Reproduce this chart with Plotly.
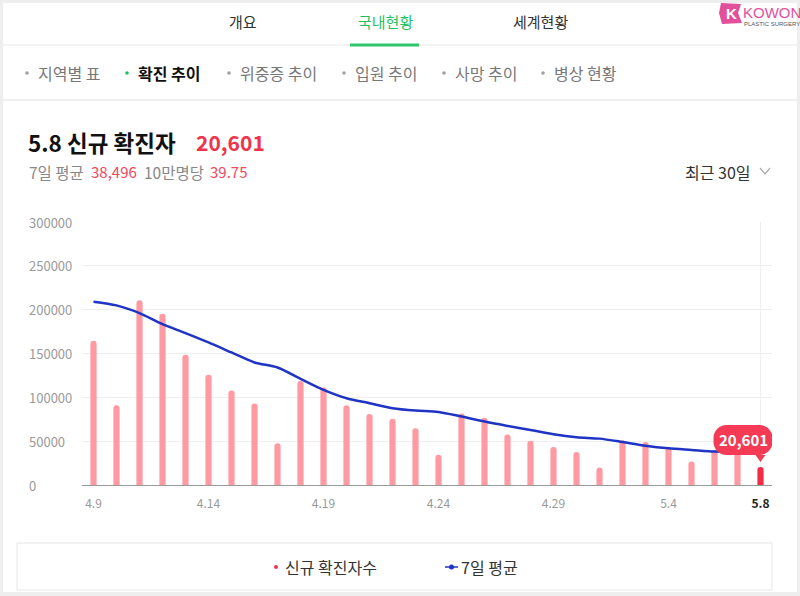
import plotly.graph_objects as go

# ---------------- data ----------------
dates = ["4.9", "4.10", "4.11", "4.12", "4.13", "4.14", "4.15", "4.16", "4.17", "4.18",
         "4.19", "4.20", "4.21", "4.22", "4.23", "4.24", "4.25", "4.26", "4.27", "4.28",
         "4.29", "4.30", "5.1", "5.2", "5.3", "5.4", "5.5", "5.6", "5.7", "5.8"]
new_cases = [164481, 90928, 210755, 195419, 148443, 125846, 107916, 93001, 47743, 118504,
             111319, 90867, 81058, 75449, 64725, 34370, 81595, 76787, 57464, 50568,
             43286, 37771, 20084, 51131, 49064, 42296, 26714, 40064, 39600, 20601]
avg7 = [209100, 204900, 196100, 183500, 173300, 162600, 151200, 139800, 134000, 121100,
        108500, 99000, 93300, 87600, 84900, 83400, 78100, 72400, 67400, 62800,
        57900, 54500, 52900, 49100, 44900, 41900, 40000, 38100, 38000, 38496]
y_ticks = [0, 50000, 100000, 150000, 200000, 250000, 300000]
x_tick_labels = ["4.9", "4.14", "4.19", "4.24", "4.29", "5.4", "5.8"]
latest_label = "5.8"
latest_value_text = "20,601"
avg_text = "38,496"
per100k_text = "39.75"

FONT = "Noto Sans CJK KR, Noto Sans, sans-serif"
W, H = 800, 596
L, R, T, B = 82, 772, 222, 485  # plot area in pixels

def px(x):
    return (x - L) / (R - L)

def py(y):
    return (B - y) / (B - T)

PINK = "#ff9aa3"
RED = "#f52a45"
BLUE = "#1f34c4"
last_idx = len(dates) - 1

bar_colors = [PINK] * (len(dates) - 1) + [RED]

fig = go.Figure()
fig.add_trace(go.Bar(x=dates, y=new_cases, marker=dict(color=bar_colors, line=dict(width=0)),
                     width=0.27, hoverinfo="skip", showlegend=False))
fig.add_trace(go.Scatter(x=dates, y=avg7, mode="lines",
                         line=dict(color=BLUE, width=2.5, shape="spline", smoothing=0.8),
                         hoverinfo="skip", showlegend=False))

shapes = []
annotations = []

def text(t, x, y, size, color, anchor="left", family=FONT):
    annotations.append(dict(text=t, x=px(x), y=py(y), xref="paper", yref="paper", showarrow=False,
                            xanchor=anchor, yanchor="middle", font=dict(family=family, size=size, color=color)))

# page frame
shapes.append(dict(type="rect", xref="paper", yref="paper", x0=px(3), x1=px(797), y0=py(3), y1=py(592),
                   fillcolor="white", line=dict(width=0), layer="below"))
# header dividers
shapes.append(dict(type="line", xref="paper", yref="paper", x0=px(3), x1=px(797), y0=py(45), y1=py(45),
                   line=dict(color="#e8e8e8", width=1)))
shapes.append(dict(type="line", xref="paper", yref="paper", x0=px(350), x1=px(419), y0=py(45), y1=py(45),
                   line=dict(color="#2fc66e", width=3)))
shapes.append(dict(type="line", xref="paper", yref="paper", x0=px(3), x1=px(797), y0=py(100), y1=py(100),
                   line=dict(color="#efefef", width=2)))

# tabs
for txt, cx, col in [("개요", 243, "#333333"), ("국내현황", 385, "#1fbf62"), ("세계현황", 540, "#333333")]:
    text(txt, cx, 21, 15, col, anchor="center")

# sub-menu
sub_items = [("지역별 표", 27, False), ("확진 추이", 127, True), ("위중증 추이", 229, False),
             ("입원 추이", 344, False), ("사망 추이", 444, False), ("병상 현황", 543, False)]
for txt, bx, active in sub_items:
    shapes.append(dict(type="circle", xref="paper", yref="paper", x0=px(bx - 1.8), x1=px(bx + 1.8),
                       y0=py(71.2), y1=py(74.8), fillcolor="#1fbf62" if active else "#a0a0a0", line=dict(width=0)))
    if active:
        text("<b>" + txt + "</b>", bx + 9, 73, 16, "#111111")
    else:
        text(txt, bx + 9, 73, 16, "#777777")

# title
text("<b>" + latest_label + " 신규 확진자</b>", 26, 142, 22.5, "#111111")
text("<b>" + latest_value_text + "</b>", 194, 142, 21, "#f0334d")
text("7일 평균", 27, 172, 15.5, "#888888")
text(avg_text, 89, 172, 15, "#f0485c")
text("10만명당", 142, 172, 15.5, "#888888")
text(per100k_text, 208, 172, 15, "#f0485c")
text("최근 30일", 753, 172, 16, "#333333", anchor="right")
shapes.append(dict(type="path", xref="paper", yref="paper",
                   path="M %f,%f L %f,%f L %f,%f" % (px(760), py(168), px(765), py(174), px(770), py(168)),
                   line=dict(color="#aaaaaa", width=1.2)))

# logo
shapes.append(dict(type="path", xref="paper", yref="paper",
                   path="M %f,%f L %f,%f L %f,%f L %f,%f L %f,%f L %f,%f Z" % (
                       px(721), py(3), px(741), py(4), px(738), py(13), px(742), py(23),
                       px(722), py(24), px(719), py(13)),
                   fillcolor="#e2509c", line=dict(width=0)))
text("<b>K</b>", 731, 13, 15, "white", anchor="center", family="Liberation Sans")
text("KOWON", 741, 12, 15, "#e2509c", family="Liberation Sans Narrow, Liberation Sans")
text("PLASTIC SURGERY", 742, 24, 6, "#555555", family="Liberation Sans Narrow, Liberation Sans")

# y tick labels (left aligned)
for v in y_ticks:
    annotations.append(dict(text=str(v), x=px(27), y=v, xref="paper", yref="y", showarrow=False,
                            xanchor="left", yanchor="middle", font=dict(family=FONT, size=13, color="#9a9a9a")))

# vertical guide at last date
shapes.append(dict(type="line", xref="x", yref="paper", x0=last_idx, x1=last_idx, y0=0, y1=1,
                   line=dict(color="#efefef", width=1), layer="below"))

# tooltip bubble (pixel sized, anchored at the last bar)
def rounded_box(l, r, b, t, rad):
    k = 0.5523 * rad
    p = "M %f,%f " % (l + rad, b)
    p += "L %f,%f L %f,%f L %f,%f " % (-5, b, 0, b - 7, 5, b)
    p += "L %f,%f " % (r - rad, b)
    p += "C %f,%f %f,%f %f,%f " % (r - rad + k, b, r, b + rad - k, r, b + rad)
    p += "L %f,%f " % (r, t - rad)
    p += "C %f,%f %f,%f %f,%f " % (r, t - rad + k, r - rad + k, t, r - rad, t)
    p += "L %f,%f " % (l + rad, t)
    p += "C %f,%f %f,%f %f,%f " % (l + rad - k, t, l, t - rad + k, l, t - rad)
    p += "L %f,%f " % (l, b + rad)
    p += "C %f,%f %f,%f %f,%f Z" % (l, b + rad - k, l + rad - k, b, l + rad, b)
    return p

shapes.append(dict(type="path", xref="x", yref="y", xsizemode="pixel", ysizemode="pixel",
                   xanchor=last_idx, yanchor=new_cases[-1],
                   path=rounded_box(-47, 12, 12, 42, 13), fillcolor="#f43a55", line=dict(width=0)))
annotations.append(dict(text="<b>" + latest_value_text + "</b>", x=last_idx, y=new_cases[-1], xref="x", yref="y",
                        showarrow=False, xshift=-17.5, yshift=27, xanchor="center", yanchor="middle",
                        font=dict(family=FONT, size=15, color="white")))

# legend box
shapes.append(dict(type="rect", xref="paper", yref="paper", x0=px(17), x1=px(772), y0=py(543), y1=py(590),
                   fillcolor="white", line=dict(color="#e6e6e6", width=1)))
shapes.append(dict(type="circle", xref="paper", yref="paper", x0=px(274), x1=px(278), y0=py(565), y1=py(569),
                   fillcolor="#f0334d", line=dict(width=0)))
text("신규 확진자수", 283, 567, 16, "#333333")
shapes.append(dict(type="line", xref="paper", yref="paper", x0=px(445), x1=px(458), y0=py(567), y1=py(567),
                   line=dict(color=BLUE, width=1.5)))
shapes.append(dict(type="circle", xref="paper", yref="paper", x0=px(449), x1=px(454), y0=py(564.5), y1=py(569.5),
                   fillcolor=BLUE, line=dict(width=0)))
text("7일 평균", 459, 567, 16, "#333333")

ticktext = []
for t in x_tick_labels:
    if t == latest_label:
        ticktext.append("<span style='color:#222222'><b>" + t + "</b></span>")
    else:
        ticktext.append(t)

fig.update_layout(
    width=W, height=H,
    margin=dict(l=L, r=W - R, t=T, b=H - B, pad=0),
    paper_bgcolor="#eeeeee",
    plot_bgcolor="rgba(0,0,0,0)",
    barcornerradius=3,
    showlegend=False,
    font=dict(family=FONT),
    xaxis=dict(type="category", categoryorder="array", categoryarray=dates,
               range=[-0.5, len(dates) - 0.5], tickmode="array", tickvals=x_tick_labels, ticktext=ticktext,
               showgrid=False, showline=True, linecolor="#999999", linewidth=1, ticks="",
               ticklabelstandoff=8, tickfont=dict(family=FONT, size=12, color="#999999"), fixedrange=True),
    yaxis=dict(range=[0, 300000], tickmode="array", tickvals=y_ticks, showticklabels=False,
               showgrid=True, gridcolor="#eeeeee", gridwidth=1, zeroline=False, fixedrange=True),
    shapes=shapes,
    annotations=annotations,
)

fig.write_html("out.html", config={"displayModeBar": False},
               post_script="document.body.style.margin='0';document.body.style.overflow='hidden';")
